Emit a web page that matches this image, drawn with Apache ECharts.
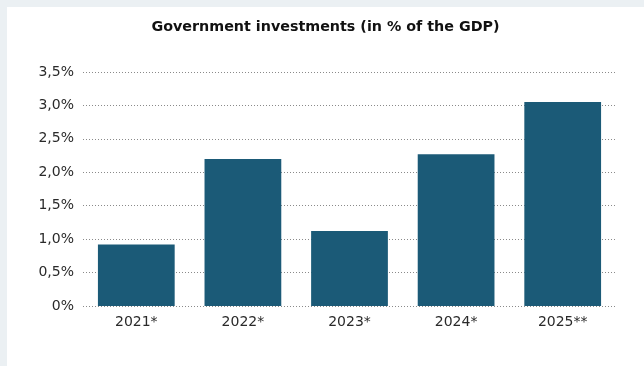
<!DOCTYPE html>
<html>
<head>
<meta charset="utf-8">
<script src="https://cdn.jsdelivr.net/npm/echarts@6/dist/echarts.min.js"></script>
<style>
  html, body { margin: 0; padding: 0; background: #ebf0f3; }
  #chart { position: absolute; left: 7px; top: 7px; width: 637px; height: 359px; background: #ffffff; }
</style>
</head>
<body>
<div id="chart"></div>
<script>
// Government investment as a share of GDP, by year
const years = ['2021*', '2022*', '2023*', '2024*', '2025**'];
const investmentShare = [0.92, 2.20, 1.12, 2.27, 3.05];
const chartTitle = 'Government investments (in % of the GDP)';

const chart = echarts.init(document.getElementById('chart'));
const fontFamily = 'DejaVu Sans';

chart.setOption({
  animation: false,
  title: {
    text: chartTitle,
    left: 'center',
    top: 8,
    textStyle: { fontFamily, fontSize: 14.3, fontWeight: 'bold', color: '#111' }
  },
  grid: { left: 76, right: 28, top: 65, bottom: 60 },
  xAxis: {
    type: 'category',
    data: years,
    axisLine: { show: false },
    axisTick: { show: false },
    axisLabel: { fontFamily, fontSize: 14, color: '#2a2a2a', margin: 9 }
  },
  yAxis: {
    type: 'value',
    min: 0,
    max: 3.5,
    interval: 0.5,
    axisLine: { show: false },
    axisTick: { show: false },
    axisLabel: {
      fontFamily, fontSize: 14, color: '#2a2a2a', margin: 9,
      formatter: v => (v === 0 ? '0%' : v.toFixed(1).replace('.', ',') + '%')
    },
    splitLine: { lineStyle: { type: [1, 2], color: '#8a8a8a', width: 1 } }
  },
  series: [{
    type: 'bar',
    data: investmentShare,
    barCategoryGap: '28%',
    itemStyle: { color: '#1b5a77' }
  }]
});
</script>
</body>
</html>
